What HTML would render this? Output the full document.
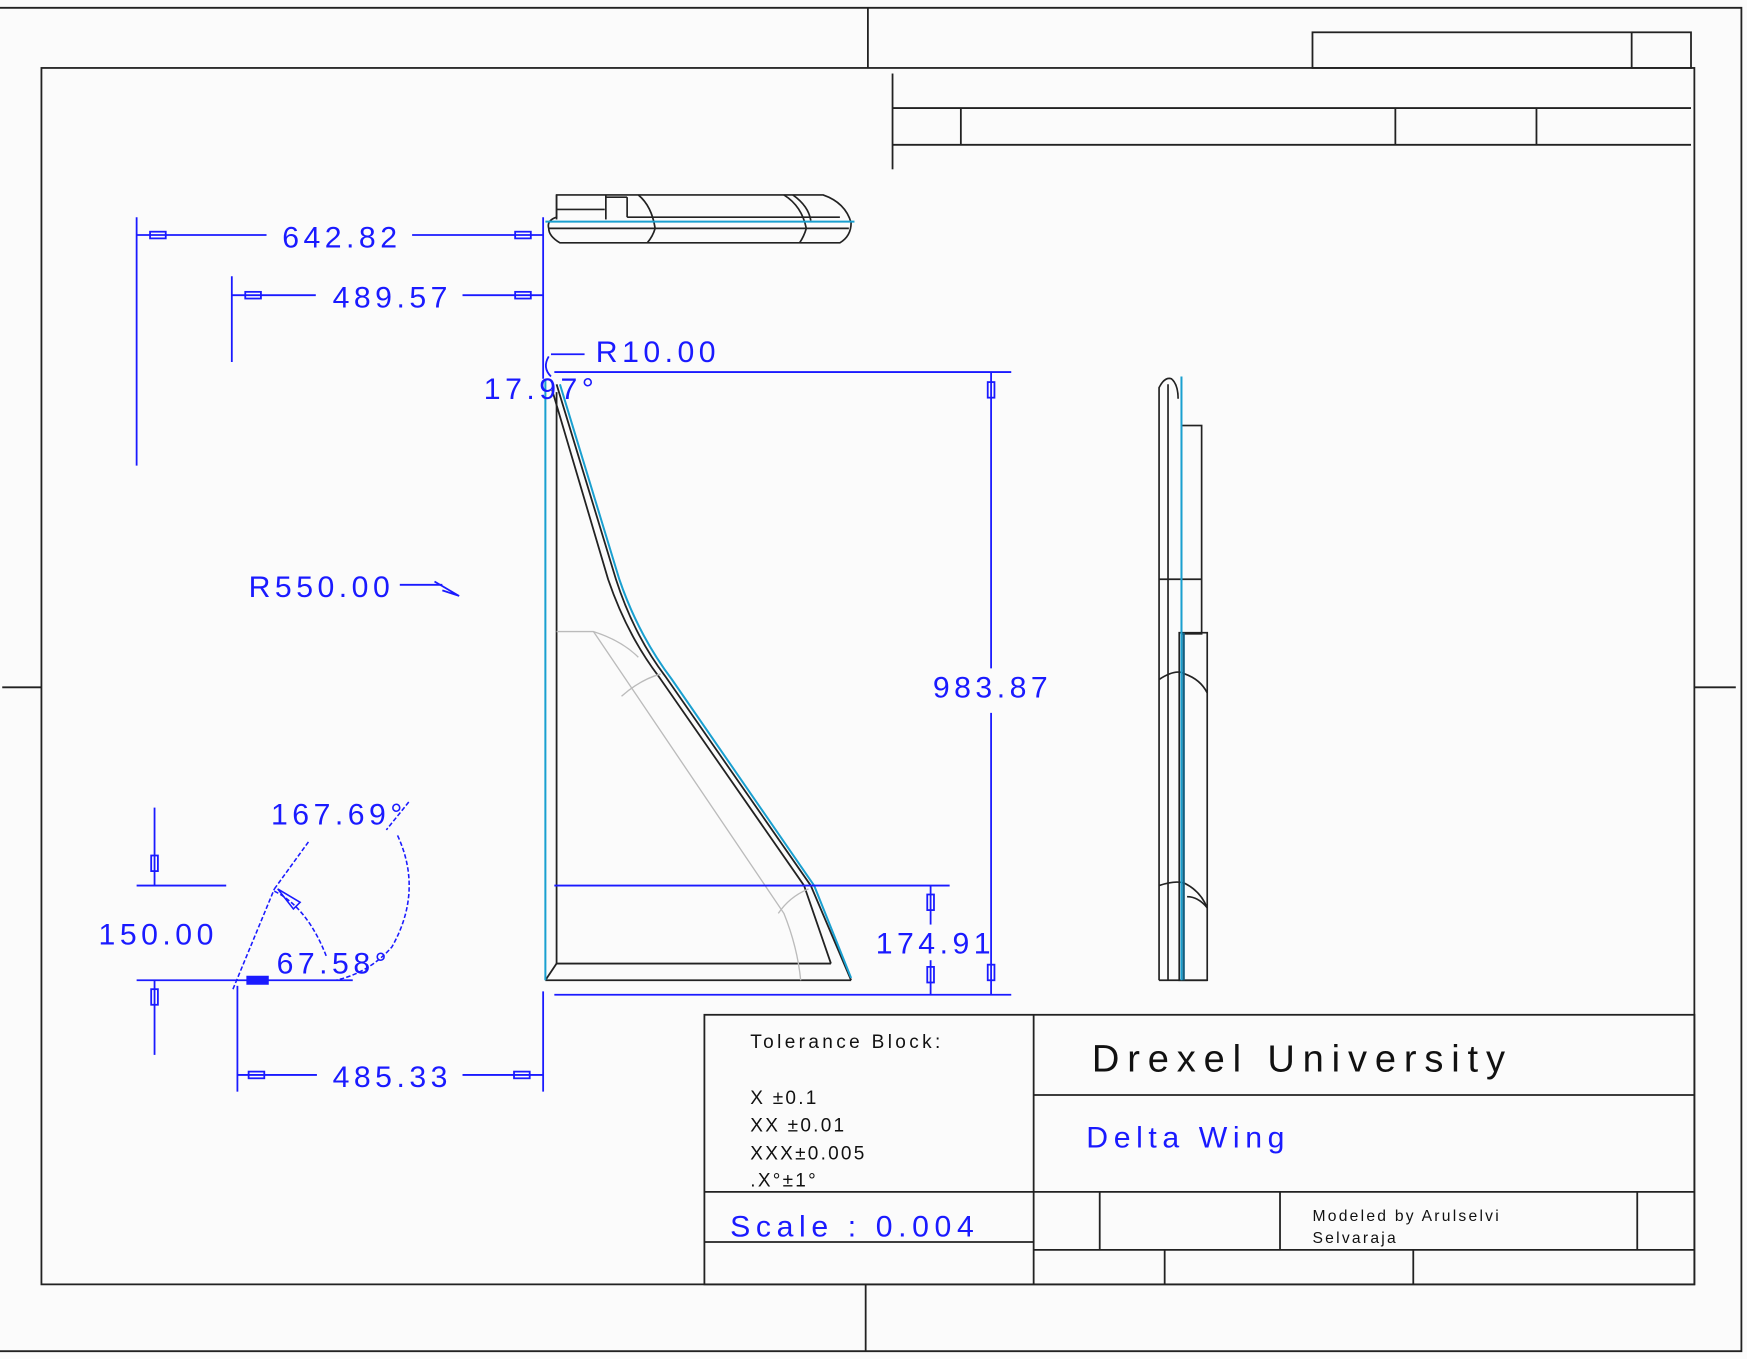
<!DOCTYPE html>
<html><head><meta charset="utf-8"><style>
html,body{margin:0;padding:0;background:#fbfbfb;}
svg{display:block;}
text{font-family:"Liberation Sans",sans-serif;}
.b{fill:#1a1aff;}
.k{fill:#111;}
</style></head><body>
<svg width="1747" height="1359" viewBox="0 0 1560 1220" preserveAspectRatio="none" xmlns="http://www.w3.org/2000/svg">
<rect width="1560" height="1220" fill="#fbfbfb"/>
<g stroke="#222" stroke-width="1.6" fill="none">
<!-- outer frame -->
<polyline points="0,7 1555,7 1555,1213 0,1213"/>
<rect x="37" y="61" width="1476" height="1092"/>
<line x1="775" y1="7" x2="775" y2="61"/><line x1="773" y1="1153" x2="773" y2="1213"/>
<line x1="2" y1="617" x2="37" y2="617"/><line x1="1513" y1="617" x2="1550" y2="617"/>
<!-- top right -->
<rect x="1172" y="29" width="338" height="32"/><line x1="1457" y1="29" x2="1457" y2="61"/>
<line x1="797" y1="66" x2="797" y2="152"/>
<line x1="797" y1="97" x2="1510" y2="97"/><line x1="797" y1="130" x2="1510" y2="130"/>
<line x1="858" y1="97" x2="858" y2="130"/><line x1="1246" y1="97" x2="1246" y2="130"/><line x1="1372" y1="97" x2="1372" y2="130"/>
<!-- title block -->
<rect x="629" y="911" width="884" height="242"/>
<line x1="923" y1="911" x2="923" y2="1153"/>
<line x1="923" y1="983" x2="1513" y2="983"/>
<line x1="629" y1="1070" x2="1513" y2="1070"/>
<line x1="629" y1="1115" x2="923" y2="1115"/>
<line x1="923" y1="1122" x2="1513" y2="1122"/>
<line x1="982" y1="1070" x2="982" y2="1122"/><line x1="1143" y1="1070" x2="1143" y2="1122"/><line x1="1462" y1="1070" x2="1462" y2="1122"/>
<line x1="1040" y1="1122" x2="1040" y2="1153"/><line x1="1262" y1="1122" x2="1262" y2="1153"/>
</g>
<!-- title text -->
<text x="670" y="941" class="k" font-size="17" letter-spacing="3">Tolerance Block:</text>
<text x="670" y="991" class="k" font-size="17" letter-spacing="2">X  ±0.1</text>
<text x="670" y="1016" class="k" font-size="17" letter-spacing="2">XX ±0.01</text>
<text x="670" y="1041" class="k" font-size="17" letter-spacing="2">XXX±0.005</text>
<text x="670" y="1065" class="k" font-size="17" letter-spacing="2">.X°±1°</text>
<text x="975" y="962" class="k" font-size="34" letter-spacing="7">Drexel University</text>
<text x="970" y="1030" class="b" font-size="27" letter-spacing="5">Delta Wing</text>
<text x="652" y="1110" class="b" font-size="27" letter-spacing="5">Scale : 0.004</text>
<text x="1172" y="1096" class="k" font-size="14" letter-spacing="2">Modeled by Arulselvi</text>
<text x="1172" y="1116" class="k" font-size="14" letter-spacing="2">Selvaraja</text>

<!-- top view -->
<g stroke="#222" stroke-width="1.5" fill="none">
<path d="M497,175 H735 Q755,182 760,200 Q760,212 750,218 H500 Q490,212 490,205 Q488,198 497,195 Z"/>
<line x1="497" y1="175" x2="497" y2="197"/>
<line x1="497" y1="188" x2="540" y2="188"/>
<line x1="541" y1="175" x2="541" y2="197"/>
<line x1="541" y1="177" x2="560" y2="177"/><line x1="560" y1="177" x2="560" y2="195"/>
<line x1="560" y1="195" x2="750" y2="195"/>
<line x1="490" y1="205" x2="758" y2="205"/>
<path d="M570,175 Q582,185 585,205 Q583,212 578,218"/>
<path d="M700,175 Q716,185 720,205 Q718,212 714,218"/>
<path d="M708,175 Q722,185 724,198"/>
</g>
<line x1="487" y1="199" x2="763" y2="199" stroke="#1aa0d0" stroke-width="1.8"/>

<!-- front view -->
<g stroke="#222" stroke-width="1.6" fill="none">
<line x1="497" y1="352" x2="497" y2="865"/>
<line x1="497" y1="865" x2="742" y2="865"/>
<line x1="487" y1="880" x2="760" y2="880"/>
<line x1="487" y1="880" x2="497" y2="865"/>
<path d="M493,350 L543,520 Q560,570 588,607 L718,795 L742,865"/>
<path d="M497,345 L550,520 Q566,570 594,607 L724,795 L760,880"/>
</g>
<g stroke="#bbb" stroke-width="1.2" fill="none">
<path d="M497,567 H530 Q555,575 570,590"/>
<path d="M530,567 Q620,700 700,820 Q712,850 715,880"/>
<path d="M555,625 Q572,610 590,605"/>
<path d="M695,820 Q705,805 722,798"/>
</g>
<path d="M487,340 L487,880 M500,345 L553,520 Q570,570 600,610 L727,795 L760,878" stroke="#1aa0d0" stroke-width="1.8" fill="none"/>

<!-- side view -->
<g stroke="#222" stroke-width="1.5" fill="none">
<path d="M1035,880 V348 Q1040,338 1046,340 Q1052,345 1052,358"/>
<line x1="1043" y1="345" x2="1043" y2="880"/>
<line x1="1035" y1="880" x2="1078" y2="880"/>
<rect x="1055" y="382" width="18" height="187"/>
<line x1="1035" y1="520" x2="1073" y2="520"/>
<rect x="1053" y="568" width="25" height="312"/>
<path d="M1035,610 Q1050,600 1058,605 Q1072,610 1078,622"/>
<path d="M1035,795 Q1050,790 1058,793 Q1072,800 1078,815"/>
<path d="M1060,805 Q1070,805 1078,815"/>
</g>
<line x1="1055" y1="338" x2="1055" y2="880" stroke="#1aa0d0" stroke-width="1.8"/>
<line x1="1057" y1="568" x2="1057" y2="880" stroke="#155f80" stroke-width="2"/>

<!-- dimensions -->
<g stroke="#1a1aff" stroke-width="1.6" fill="none">
<line x1="122" y1="195" x2="122" y2="418"/>
<line x1="122" y1="211" x2="238" y2="211"/><line x1="368" y1="211" x2="485" y2="211"/>
<line x1="207" y1="248" x2="207" y2="325"/>
<line x1="207" y1="265" x2="282" y2="265"/><line x1="413" y1="265" x2="485" y2="265"/>
<line x1="485" y1="195" x2="485" y2="340"/>
<rect x="134" y="208" width="14" height="6"/><rect x="460" y="208" width="14" height="6"/>
<rect x="219" y="262" width="14" height="6"/><rect x="460" y="262" width="14" height="6"/>
<line x1="492" y1="318" x2="522" y2="318"/>
<path d="M490,320 Q484,330 492,338"/>
<line x1="495" y1="334" x2="903" y2="334"/>
<line x1="495" y1="893" x2="903" y2="893"/>
<line x1="885" y1="334" x2="885" y2="600"/><line x1="885" y1="640" x2="885" y2="893"/>
<rect x="882" y="343" width="6" height="14"/><rect x="882" y="866" width="6" height="14"/>
<line x1="495" y1="795" x2="848" y2="795"/>
<line x1="831" y1="795" x2="831" y2="830"/><line x1="831" y1="862" x2="831" y2="893"/>
<rect x="828" y="803" width="6" height="14"/><rect x="828" y="868" width="6" height="14"/>
<line x1="357" y1="525" x2="395" y2="525"/>
<path d="M388,522 L410,535 L395,530"/>
<line x1="122" y1="795" x2="202" y2="795"/>
<line x1="122" y1="880" x2="315" y2="880"/>
<line x1="138" y1="725" x2="138" y2="795"/><line x1="138" y1="880" x2="138" y2="947"/>
<rect x="135" y="768" width="6" height="14"/><rect x="135" y="888" width="6" height="14"/>
<line x1="212" y1="885" x2="212" y2="980"/><line x1="485" y1="890" x2="485" y2="980"/>
<line x1="212" y1="965" x2="283" y2="965"/><line x1="413" y1="965" x2="485" y2="965"/>
<rect x="222" y="962" width="14" height="6"/><rect x="459" y="962" width="14" height="6"/>
</g>
<g stroke="#1a1aff" stroke-width="1.4" fill="none" stroke-dasharray="4,2">
<line x1="208" y1="888" x2="245" y2="798"/>
<line x1="245" y1="798" x2="276" y2="755"/>
<path d="M245,800 Q275,815 292,860"/>
<path d="M355,750 Q378,800 350,850 Q330,873 300,880"/>
<path d="M365,720 L345,745"/>
</g>
<path d="M248,798 L268,810 L262,816 Z" fill="none" stroke="#1a1aff" stroke-width="1.4"/>
<path d="M220,876 L240,876 L240,884 L220,884 Z" fill="#1a1aff"/>

<g class="b" font-size="27" letter-spacing="4">
<text x="252" y="222">642.82</text>
<text x="297" y="276">489.57</text>
<text x="532" y="325">R10.00</text>
<text x="432" y="358">17.97°</text>
<text x="222" y="536">R550.00</text>
<text x="833" y="626">983.87</text>
<text x="782" y="856">174.91</text>
<text x="242" y="740">167.69°</text>
<text x="88" y="848">150.00</text>
<text x="247" y="874">67.58°</text>
<text x="297" y="976">485.33</text>
</g>
</svg>
</body></html>
